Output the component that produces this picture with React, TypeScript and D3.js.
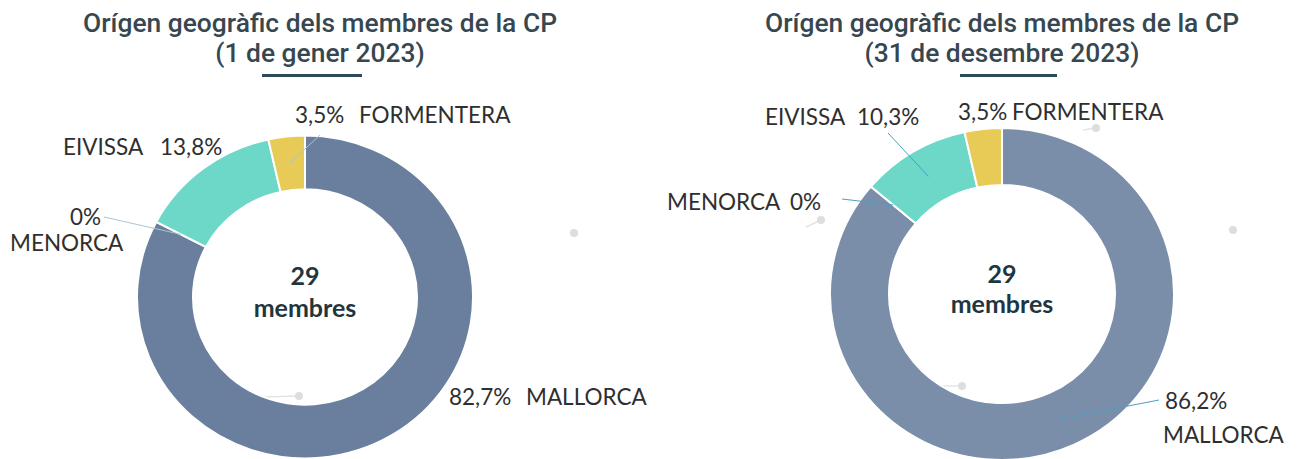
import React from "react";
import * as d3 from "d3";

// --- data ---
const islands = ["MALLORCA", "MENORCA", "EIVISSA", "FORMENTERA"];
const sharesJan = [82.7, 0, 13.8, 3.5];
const sharesDec = [86.2, 0, 10.3, 3.5];
const membersJan = 29;
const membersDec = 29;
const titleText = "Orígen geogràfic dels membres de la CP";
const subtitleJan = "(1 de gener 2023)";
const subtitleDec = "(31 de desembre 2023)";
const membersWord = "membres";

const W = 1302;
const H = 459;

const fmtPct = (v: number) => String(v).replace(".", ",") + "%";

type LabelPos = {
  pct: [number, number];
  name: [number, number];
  leader?: [number, number];
};

type DonutCfg = {
  cx: number;
  cy: number;
  outer: number;
  inner: number;
  sy: number;
  colors: string[];
  leaderColor: string;
  titleX: number;
  titleY: [number, number];
  bar: [number, number, number];
  centerY: [number, number];
  labels: LabelPos[];
  ghosts: { dot: [number, number]; from?: [number, number] }[];
};

// layout, relative to each donut centre
const leftCfg: DonutCfg = {
  cx: 305,
  cy: 297,
  outer: 168,
  inner: 112,
  sy: 0.961,
  colors: ["#6a7f9d", "#5aa9c9", "#6dd8c8", "#e8ca56"],
  leaderColor: "#a9c7d2",
  titleX: 15,
  titleY: [-265, -235],
  bar: [-43, 57, -223],
  centerY: [-12, 20],
  labels: [
    { pct: [144, 108], name: [221, 108] },
    { pct: [-235, -72], name: [-295, -46], leader: [-201, -80] },
    { pct: [-145, -142], name: [-242, -142] },
    { pct: [-10, -174], name: [54, -174], leader: [15, -162] },
  ],
  ghosts: [
    { dot: [269, -64] },
    { dot: [-6, 99], from: [-43, 100] },
  ],
};

const rightCfg: DonutCfg = {
  cx: 1002,
  cy: 294,
  outer: 172,
  inner: 113,
  sy: 0.965,
  colors: ["#7a8eaa", "#5aa9c9", "#6dd8c8", "#e8ca56"],
  leaderColor: "#4e9fbf",
  titleX: 0,
  titleY: [-262, -232],
  bar: [-42, 55, -220],
  centerY: [-11, 19],
  labels: [
    { pct: [163, 115], name: [161, 149], leader: [157, 106] },
    { pct: [-212, -84], name: [-335, -84], leader: [-160, -95] },
    { pct: [-145, -169], name: [-237, -169], leader: [-114, -161] },
    { pct: [-44, -174], name: [10, -174] },
  ],
  ghosts: [
    { dot: [94, -166], from: [81, -164] },
    { dot: [-181, -74], from: [-196, -67] },
    { dot: [231, -64] },
    { dot: [-40, 92], from: [-77, 92] },
  ],
};

const pie = d3
  .pie<number>()
  .sort(null)
  .value((d) => d)
  .startAngle(0)
  .endAngle(2 * Math.PI);

const Donut = ({
  cfg,
  shares,
  members,
  subtitle,
}: {
  cfg: DonutCfg;
  shares: number[];
  members: number;
  subtitle: string;
}) => {
  const arcs = pie(shares);
  const arc = d3
    .arc<d3.PieArcDatum<number>>()
    .innerRadius(cfg.inner)
    .outerRadius(cfg.outer);

  const labelFont = { fontFamily: "Lato, sans-serif", fontSize: 22.5, fill: "#2f2f2f" };

  return (
    <g transform={`translate(${cfg.cx},${cfg.cy})`}>
      {/* title */}
      <g
        fontFamily="Roboto, sans-serif"
        fontWeight={500}
        fontSize={26.4}
        fill="#37474f"
        textAnchor="middle"
      >
        <text x={cfg.titleX} y={cfg.titleY[0]}>
          {titleText}
        </text>
        <text x={cfg.titleX} y={cfg.titleY[1]}>
          {subtitle}
        </text>
      </g>
      <rect
        x={cfg.bar[0]}
        y={cfg.bar[2]}
        width={cfg.bar[1] - cfg.bar[0]}
        height={3}
        fill="#2a4b57"
      />

      {/* ghost leader stubs */}
      {cfg.ghosts.map((g, i) => (
        <g key={i}>
          {g.from && (
            <line
              x1={g.from[0]}
              y1={g.from[1]}
              x2={g.dot[0]}
              y2={g.dot[1]}
              stroke="#e4e4e4"
              strokeWidth={1.5}
            />
          )}
          <circle cx={g.dot[0]} cy={g.dot[1]} r={4} fill="#dedede" />
        </g>
      ))}

      {/* ring */}
      <g transform={`scale(1,${cfg.sy})`}>
        {arcs.map((a, i) => (
          <path
            key={islands[i]}
            d={arc(a) || ""}
            fill={cfg.colors[i]}
            stroke="#fff"
            strokeWidth={2}
            vectorEffect="non-scaling-stroke"
          />
        ))}
      </g>

      {/* leaders */}
      {arcs.map((a, i) => {
        const end = cfg.labels[i].leader;
        if (!end) return null;
        const [x, y] = arc.centroid(a);
        return (
          <line
            key={islands[i]}
            x1={x}
            y1={y * cfg.sy}
            x2={end[0]}
            y2={end[1]}
            stroke={cfg.leaderColor}
            strokeWidth={1}
          />
        );
      })}

      {/* labels */}
      {islands.map((name, i) => {
        const l = cfg.labels[i];
        return (
          <g key={name} {...labelFont}>
            <text x={l.pct[0]} y={l.pct[1]}>
              {fmtPct(shares[i])}
            </text>
            <text x={l.name[0]} y={l.name[1]}>
              {name}
            </text>
          </g>
        );
      })}

      {/* centre */}
      <g
        fontFamily="Lato, sans-serif"
        fontWeight={700}
        fontSize={25}
        fill="#1f3640"
        textAnchor="middle"
      >
        <text x={0} y={cfg.centerY[0]}>
          {members}
        </text>
        <text x={0} y={cfg.centerY[1]}>
          {membersWord}
        </text>
      </g>
    </g>
  );
};

export default function App() {
  return (
    <svg
      width={W}
      height={H}
      style={{ position: "fixed", left: 0, top: 0, background: "#fff" }}
    >
      <rect width={W} height={H} fill="#fff" />
      <Donut cfg={leftCfg} shares={sharesJan} members={membersJan} subtitle={subtitleJan} />
      <Donut cfg={rightCfg} shares={sharesDec} members={membersDec} subtitle={subtitleDec} />
    </svg>
  );
}
